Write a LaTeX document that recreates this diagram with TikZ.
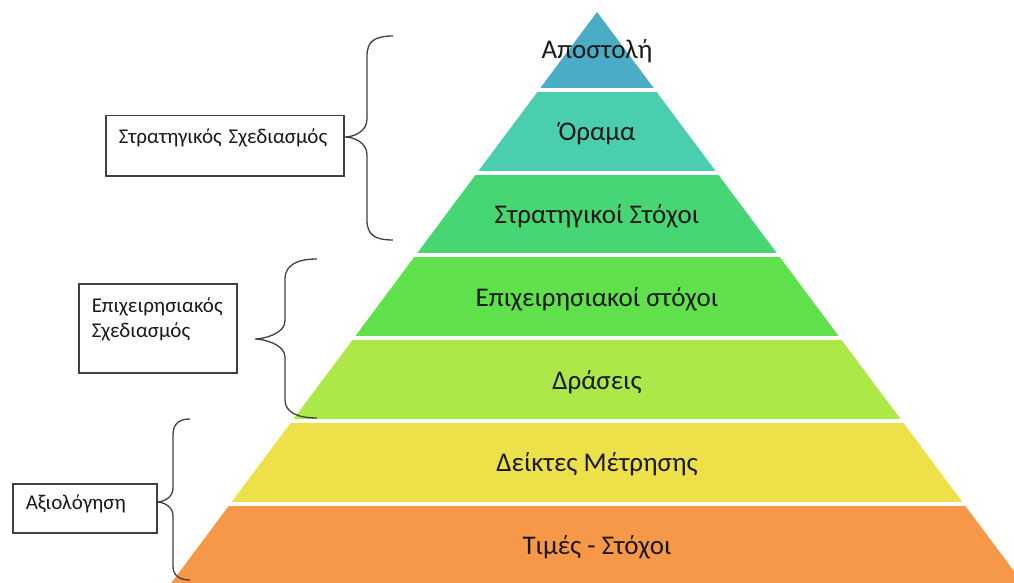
\documentclass[tikz,border=0pt]{standalone}
\usepackage{fontspec}
\setmainfont{Carlito}
\usepackage{xcolor}
\usetikzlibrary{positioning}

\definecolor{layerA}{RGB}{75,172,198}
\definecolor{layerB}{RGB}{75,206,175}
\definecolor{layerC}{RGB}{72,214,117}
\definecolor{layerD}{RGB}{96,224,75}
\definecolor{layerE}{RGB}{172,232,72}
\definecolor{layerF}{RGB}{238,224,72}
\definecolor{layerG}{RGB}{247,152,72}
\definecolor{boxline}{RGB}{64,64,64}

\tikzset{
  layertext/.style={anchor=base, inner sep=0pt, font=\fontsize{27}{31}\selectfont, text=black!90},
  infobox/.style={draw=boxline, line width=1.5pt, anchor=north west, inner xsep=13pt, inner ysep=6pt, align=left, font=\fontsize{21}{25}\selectfont, text=black!90},
  bracket/.style={draw=boxline, line width=1.3pt}
}

\begin{document}
\begin{tikzpicture}[x=1pt, y=-1pt]
  \useasboundingbox (0,0) rectangle (1014,583);

  % Pyramid layers
  \begin{scope}
    \clip (597,12) -- (1028,590) -- (166,590) -- cycle;
    \fill[layerA] (150,0) rectangle (1040,88);
    \fill[layerB] (150,92) rectangle (1040,170.7);
    \fill[layerC] (150,174.7) rectangle (1040,253.4);
    \fill[layerD] (150,257.4) rectangle (1040,336.1);
    \fill[layerE] (150,340.1) rectangle (1040,418.8);
    \fill[layerF] (150,422.8) rectangle (1040,501.5);
    \fill[layerG] (150,505.5) rectangle (1040,590);
  \end{scope}

  % Layer labels
  \node[layertext] (apostoli) at (597,59) {Αποστολή};
  \node[layertext] (orama) at (597,140) {Όραμα};
  \node[layertext] (stratstoxoi) at (597,223) {Στρατηγικοί Στόχοι};
  \node[layertext] (epixstoxoi) at (597,306) {Επιχειρησιακοί στόχοι};
  \node[layertext] (draseis) at (597,389) {Δράσεις};
  \node[layertext] (deiktes) at (597,471) {Δείκτες Μέτρησης};
  \node[layertext] (times) at (597,554) {Τιμές - Στόχοι};

  % Side boxes
  \node[infobox, text width=212pt, text height=22pt, text depth=26pt] (stratsx) at (105,115) {Στρατηγικός Σχεδιασμός};
  \node[infobox, text width=132pt, text height=23pt, text depth=54pt] (epixsx) at (78,283) {Επιχειρησιακός\\Σχεδιασμός};
  \node[infobox, text width=118pt, text height=20pt, text depth=17pt] (axiol) at (12,483) {Αξιολόγηση};

  % Braces
  \draw[bracket] (393,36) .. controls (375,36) and (367,41) .. (367,56)
    -- (367,119) .. controls (367,132) and (353,137) .. (345,137)
    .. controls (353,137) and (367,142) .. (367,155)
    -- (367,220) .. controls (367,235) and (375,240) .. (393,240);
  \draw[bracket] (317,259) .. controls (299,259) and (285,264) .. (285,279)
    -- (285,321) .. controls (285,334) and (263,339) .. (255,339)
    .. controls (263,339) and (285,344) .. (285,357)
    -- (285,400) .. controls (285,413) and (299,418) .. (317,418);
  \draw[bracket] (190,419) .. controls (180,419) and (173,423) .. (173,435)
    -- (173,488) .. controls (173,498) and (163,502) .. (157,502)
    .. controls (163,502) and (173,506) .. (173,516)
    -- (173,566) .. controls (173,576) and (180,580) .. (190,580);
\end{tikzpicture}
\end{document}
